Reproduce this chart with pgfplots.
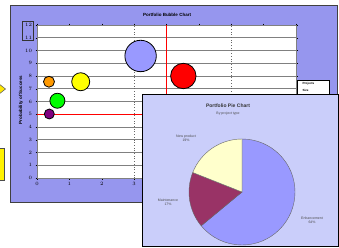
\documentclass[border=0pt]{standalone}
\usepackage{pgfplots}
\pgfplotsset{compat=1.18}
\usepackage{fontspec}
\setmainfont{Liberation Sans}
\definecolor{chartbg}{RGB}{150,150,238}
\definecolor{piebg}{RGB}{202,206,250}
\definecolor{bblue}{RGB}{153,153,255}
\definecolor{bred}{RGB}{255,0,0}
\definecolor{borange}{RGB}{255,153,0}
\definecolor{byellow}{RGB}{255,255,0}
\definecolor{bgreen}{RGB}{0,255,0}
\definecolor{bpurple}{RGB}{128,0,128}
\definecolor{pmaint}{RGB}{153,51,102}
\definecolor{pnew}{RGB}{255,255,204}
\definecolor{gridgray}{RGB}{128,128,128}
\begin{document}
\begin{tikzpicture}[x=1pt,y=1pt]
\useasboundingbox (0,0) rectangle (339,247);
\fill[white] (0,0) rectangle (339,247);
% yellow shapes at the left edge
\fill[yellow!90!orange, draw=black!60, line width=0.6pt] (-6,149) -- (5.5,158) -- (-6,167) -- cycle;
\fill[yellow, draw=black!70, line width=0.8pt] (-6,67) rectangle (4,99);
% bubble chart area
\fill[chartbg, draw=black!75, line width=1pt] (10,45) rectangle (337,241);
\fill[chartbg, draw=black!80, line width=0.8pt] (22,207) rectangle (33,226);
\node[font=\fontsize{4.5}{5}\selectfont\bfseries] at (167,232) {Portfolio Bubble Chart};
\node[font=\fontsize{4.5}{5}\selectfont\bfseries, rotate=90] at (21,147) {Probability of Success};
% legend
\fill[white, draw=black, line width=0.6pt] (297,153) rectangle (329,167);
\node[font=\fontsize{3}{3.5}\selectfont\bfseries, anchor=west] at (299,163.5) {Projects};
\node[font=\fontsize{3}{3.5}\selectfont\bfseries, anchor=west] at (299,157) {Size};
\begin{axis}[
  at={(37pt,69pt)}, anchor=south west,
  width=259pt, height=153pt, scale only axis,
  xmin=0, xmax=8, ymin=0, ymax=12,
  xtick={0,...,8}, ytick={0,...,12},
  axis background/.style={fill=white},
  axis line style={gridgray, line width=0.6pt},
  ymajorgrids, major grid style={gridgray, line width=0.7pt},
  extra x ticks={3,6}, extra x tick labels={},
  extra x tick style={grid=major, major grid style={black!60, dotted, line width=0.7pt}, tick style={draw=none}},
  tick style={black, line width=0.5pt}, tick align=outside, major tick length=1.5pt,
  ticklabel style={font=\fontsize{4}{4.5}\selectfont\bfseries},
  xticklabel style={yshift=1pt},
  clip=false,
]
\draw[red, line width=0.9pt] (axis cs:4,0) -- (axis cs:4,12);
\draw[red, line width=0.9pt] (axis cs:0,5) -- (axis cs:8,5);
\addplot[only marks, mark=*, mark size=15.7pt, mark options={fill=bblue, draw=black, line width=0.8pt}] coordinates {(3.2,9.57)};
\addplot[only marks, mark=*, mark size=12.7pt, mark options={fill=bred, draw=black, line width=0.8pt}] coordinates {(4.52,8.0)};
\addplot[only marks, mark=*, mark size=9pt, mark options={fill=byellow, draw=black, line width=0.8pt}] coordinates {(1.35,7.55)};
\addplot[only marks, mark=*, mark size=5.5pt, mark options={fill=borange, draw=black, line width=0.8pt}] coordinates {(0.37,7.55)};
\addplot[only marks, mark=*, mark size=7.5pt, mark options={fill=bgreen, draw=black, line width=0.8pt}] coordinates {(0.63,6.06)};
\addplot[only marks, mark=*, mark size=5pt, mark options={fill=bpurple, draw=black, line width=0.8pt}] coordinates {(0.38,5.02)};
\end{axis}
% pie chart panel
\fill[piebg, draw=black, line width=1pt] (142,1) rectangle (338,153);
\node[font=\fontsize{5}{6}\selectfont\bfseries, text=black!80] at (228,141) {Portfolio Pie Chart};
\node[font=\fontsize{3.5}{4}\selectfont, text=black!70] at (228,133) {By project type};
\begin{axis}[
  at={(242pt,55pt)}, anchor=center,
  width=106pt, height=106pt, scale only axis,
  xmin=-1, xmax=1, ymin=-1, ymax=1, hide axis, clip=false,
]
\fill[bblue, draw=black!60, line width=0.4pt] (axis cs:0,0) -- ++(90:53pt) arc[start angle=90, end angle={90-3.6*64}, radius=53pt] -- cycle;
\fill[pmaint, draw=black!60, line width=0.4pt] (axis cs:0,0) -- ++({90-3.6*64}:53pt) arc[start angle={90-3.6*64}, end angle={90-3.6*81}, radius=53pt] -- cycle;
\fill[pnew, draw=black!60, line width=0.4pt] (axis cs:0,0) -- ++({90-3.6*81}:53pt) arc[start angle={90-3.6*81}, end angle=-270, radius=53pt] -- cycle;
\end{axis}
\node[font=\fontsize{3.5}{4.2}\selectfont, text=black!70, align=center] at (186,109) {New product\\19\%};
\node[font=\fontsize{3.5}{4.2}\selectfont, text=black!70, align=center] at (168,45) {Maintenance\\17\%};
\node[font=\fontsize{3.5}{4.2}\selectfont, text=black!70, align=center] at (312,27) {Enhancement\\64\%};
\end{tikzpicture}
\end{document}
